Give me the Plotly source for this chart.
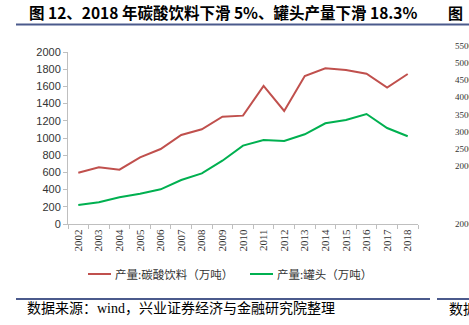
import plotly.graph_objects as go

years = [str(y) for y in range(2002, 2019)]
soda = [596, 659, 631, 775, 872, 1035, 1101, 1248, 1260, 1605, 1314, 1721, 1810, 1790, 1748, 1586, 1744]
canned = [221, 252, 310, 352, 403, 512, 589, 736, 911, 977, 965, 1043, 1171, 1209, 1279, 1116, 1020]
y_ticks = [0, 200, 400, 600, 800, 1000, 1200, 1400, 1600, 1800, 2000]
right_ticks = ["5500", "5000", "4500", "4000", "3500", "3000", "2500", "2000"]
series_names = ["产量:碳酸饮料（万吨）", "产量:罐头（万吨）"]
colors = ["#c0504d", "#00b050"]

W, H = 469, 325
L, R, T, B = 68, 51, 52, 101
pw, ph = W - L - R, H - T - B

def px(x):
    return (x - L) / pw

def py(y):
    return (H - B - y) / ph

fig = go.Figure()
for vals, name, c in zip([soda, canned], series_names, colors):
    fig.add_trace(go.Scatter(x=years, y=vals, mode="lines", name=name,
                             line=dict(color=c, width=2), showlegend=False))

cjk = "Noto Sans CJK SC"

fig.update_layout(
    width=W, height=H,
    margin=dict(l=L, r=R, t=T, b=B),
    paper_bgcolor="white", plot_bgcolor="white",
    xaxis=dict(type="category", range=[-0.5, 16.5], tickangle=-90,
               tickfont=dict(family="Liberation Serif", size=11, color="#333"),
               showline=True, linecolor="#bfbfbf", linewidth=1,
               ticks="outside", ticklen=4, tickcolor="#bfbfbf", tickson="boundaries",
               showgrid=False, zeroline=False),
    yaxis=dict(range=[0, 2000], tickvals=y_ticks,
               tickfont=dict(family="Liberation Sans", size=11, color="#333"),
               showline=True, linecolor="#bfbfbf", linewidth=1,
               ticks="outside", ticklen=4, tickcolor="#bfbfbf",
               showgrid=False, zeroline=False),
)

shapes = []
annotations = []
# title
annotations.append(dict(text="<b>图 12、2018 年碳酸饮料下滑 5%、罐头产量下滑 18.3%</b>",
                        x=px(27), y=py(12), xref="paper", yref="paper",
                        xanchor="left", yanchor="middle", showarrow=False,
                        font=dict(family=cjk, size=15.5, color="black")))
annotations.append(dict(text="<b>图</b>", x=px(446), y=py(12), xref="paper", yref="paper",
                        xanchor="left", yanchor="middle", showarrow=False,
                        font=dict(family=cjk, size=15, color="black")))
shapes.append(dict(type="line", xref="paper", yref="paper", x0=px(16), x1=px(469),
                   y0=py(24.5), y1=py(24.5), line=dict(color="#4b5a8c", width=2)))
# legend
lx = [88, 250]
for i in range(2):
    shapes.append(dict(type="line", xref="paper", yref="paper", x0=px(lx[i]), x1=px(lx[i] + 23),
                       y0=py(274), y1=py(274), line=dict(color=colors[i], width=2)))
    annotations.append(dict(text=series_names[i], x=px(lx[i] + 25), y=py(274), xref="paper", yref="paper",
                            xanchor="left", yanchor="middle", showarrow=False,
                            font=dict(family=cjk, size=11.5, color="#333")))
# bottom rule and source
shapes.append(dict(type="line", xref="paper", yref="paper", x0=px(16), x1=px(430),
                   y0=py(299), y1=py(299), line=dict(color="#4b5a8c", width=2)))
shapes.append(dict(type="line", xref="paper", yref="paper", x0=px(437), x1=px(469),
                   y0=py(299), y1=py(299), line=dict(color="#4b5a8c", width=2)))
annotations.append(dict(text="数据来源：wind，兴业证券经济与金融研究院整理", x=px(25), y=py(308),
                        xref="paper", yref="paper", xanchor="left", yanchor="middle", showarrow=False,
                        font=dict(family="Liberation Serif, Noto Sans CJK SC", size=14, color="black")))
annotations.append(dict(text="数据", x=px(447), y=py(308),
                        xref="paper", yref="paper", xanchor="left", yanchor="middle", showarrow=False,
                        font=dict(family=cjk, size=14, color="black")))
# partial neighbouring chart
ry = [45.7, 62.7, 80, 97, 115, 132, 149, 166]
for t, yy in zip(right_ticks, ry):
    annotations.append(dict(text=t, x=px(453), y=py(yy), xref="paper", yref="paper",
                            xanchor="left", yanchor="middle", showarrow=False,
                            font=dict(family="Liberation Serif", size=9, color="#333")))
annotations.append(dict(text="2006", x=px(453), y=py(224), xref="paper", yref="paper",
                        xanchor="left", yanchor="middle", showarrow=False,
                        font=dict(family="Liberation Serif", size=9, color="#333")))

fig.update_layout(shapes=shapes, annotations=annotations)
fig.write_html("out.html")
